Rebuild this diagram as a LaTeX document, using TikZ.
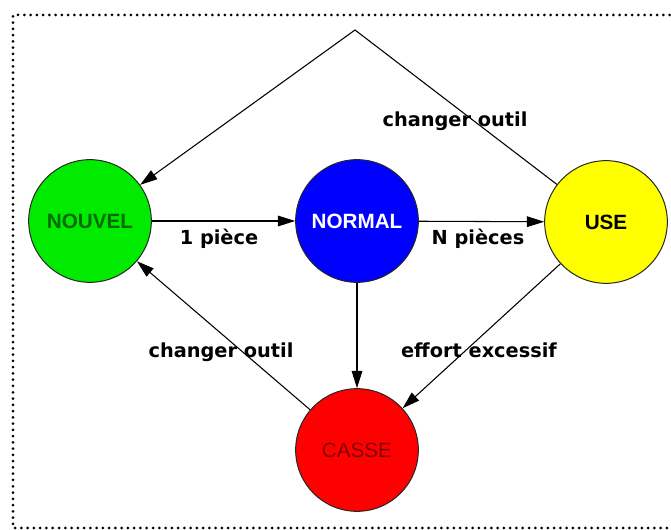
\documentclass[tikz,border=0pt]{standalone}
\usepackage{fontspec}
\setmainfont{Liberation Sans}
\newfontfamily\labelfont{DejaVu Sans}
\usepackage{tikz}
\usetikzlibrary{arrows.meta}
\definecolor{nouvelFill}{RGB}{0, 235, 0}
\definecolor{nouvelText}{RGB}{0, 105, 0}
\definecolor{normalFill}{RGB}{0, 0, 255}
\definecolor{useFill}{RGB}{255, 255, 0}
\definecolor{casseFill}{RGB}{255, 0, 0}
\definecolor{casseText}{RGB}{130, 0, 0}

\begin{document}
\begin{tikzpicture}[x=0.75pt, y=-0.75pt,
    etat/.style={circle, draw=black!85, line width=0.75pt, minimum size=92pt,
                 inner sep=0pt, font=\fontsize{15.5}{16}\selectfont\bfseries},
    trans/.style={line width=0.8pt, -{Triangle[length=13pt, width=8pt]}},
    etiq/.style={font=\labelfont\fontsize{14.5}{15}\selectfont\bfseries,
                 anchor=base, inner sep=0pt}]
  % page and dotted frame (open on the right)
  \useasboundingbox (0,0) rectangle (671,530);
  \fill[white] (0,0) rectangle (671,530);
  \draw[line width=2.25pt, line cap=round, dash pattern=on 0pt off 4.7pt]
    (676,15) -- (13,15) -- (13,528) -- (676,528);

  % states
  \node[etat, fill=nouvelFill, text=nouvelText] (nouvel) at (90,221) {NOUVEL};
  \node[etat, fill=normalFill, text=white] (normal) at (357,221) {NORMAL};
  \node[etat, fill=useFill, text=black] (use) at (606,222) {USE};
  \node[etat, fill=casseFill, text=casseText, font=\fontsize{15.5}{16}\selectfont]
    (casse) at (357,450) {CASSE};

  % transitions
  \coordinate (sommet) at (355,30);
  \draw[trans] (use) -- (sommet) -- (nouvel);
  \draw[trans] (nouvel) -- (normal);
  \draw[trans] (normal) -- (use);
  \draw[trans] (normal) -- (casse);
  \draw[trans] (use) -- (casse);
  \draw[trans] (casse) -- (nouvel);

  % labels
  \node[etiq] (lbHaut) at (455,127) {changer outil};
  \node[etiq] (lbPiece) at (219,245) {1 pièce};
  \node[etiq] (lbPieces) at (478,245) {N pièces};
  \node[etiq] (lbRetour) at (221,358) {changer outil};
  \node[etiq] (lbEffort) at (479,358) {effort excessif};
\end{tikzpicture}
\end{document}
